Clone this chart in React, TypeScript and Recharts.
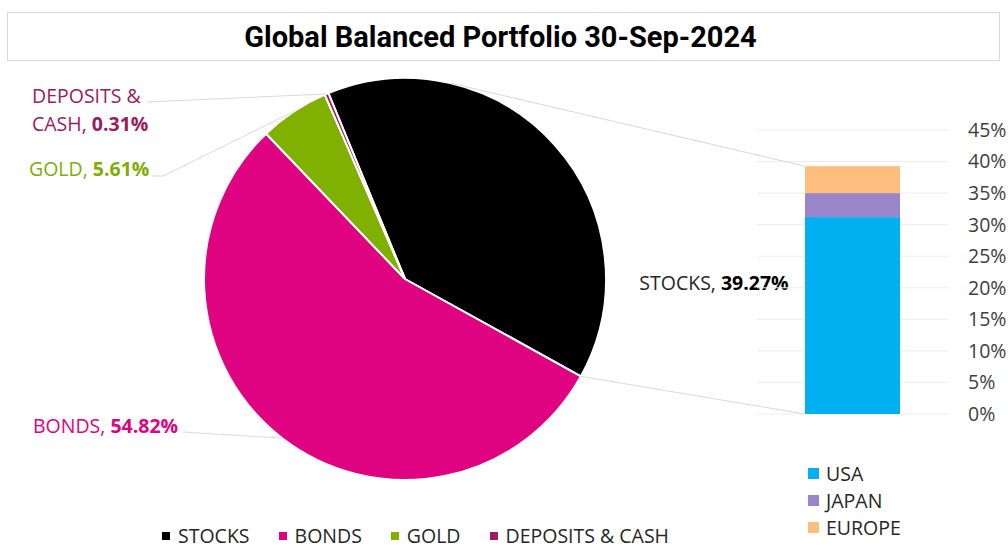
import React from 'react';
import { PieChart, Pie, Cell, BarChart, Bar, XAxis, YAxis, CartesianGrid } from 'recharts';

const TITLE = 'Global Balanced Portfolio 30-Sep-2024';
const ASSETS = ['STOCKS', 'BONDS', 'GOLD', 'DEPOSITS & CASH'];
const ASSET_VALUES = [39.27, 54.82, 5.61, 0.31];
const ASSET_COLORS = ['#000000', '#DF0381', '#80B000', '#9A1C5E'];
const ASSET_LABEL_COLORS = ['#262626', '#DF0381', '#7DAE00', '#9A1C5E'];
const REGIONS = ['USA', 'JAPAN', 'EUROPE'];
const REGION_VALUES = [31.2, 3.8, 4.27];
const REGION_COLORS = ['#00B0F0', '#9A84CA', '#FFBE7D'];
const Y_TICKS = [0, 5, 10, 15, 20, 25, 30, 35, 40, 45];

const W = 1008;
const H = 548;
const FONT = "'Open Sans', 'Noto Sans', sans-serif";
const FS = 19.5;

// pie geometry
const CX = 405;
const CY = 279;
const R = 201;
const START = 112.4;

// label layout (text anchor points and leader-line start points)
const LABEL_LAYOUT: Record<string, any> = {
  STOCKS: { x: 714, y: 282, anchor: 'middle', wrap: 0, leader: null },
  BONDS: { x: 33, y: 425, anchor: 'start', wrap: 0, leader: [[183, 432]] },
  GOLD: { x: 29, y: 168, anchor: 'start', wrap: 0, leader: [[152, 176], [163, 176]] },
  'DEPOSITS & CASH': { x: 32, y: 95, anchor: 'start', wrap: 2, leader: [[147, 102]] },
};

const pieData = ASSETS.map((name, i) => ({ name, value: ASSET_VALUES[i], fill: ASSET_COLORS[i] }));
const barRow: Record<string, any> = { name: 'STOCKS' };
REGIONS.forEach((r, i) => { barRow[r] = REGION_VALUES[i]; });
const barData = [barRow];

const RAD = Math.PI / 180;
const polar = (angle: number, r: number = R) => [CX + r * Math.cos(angle * RAD), CY - r * Math.sin(angle * RAD)];

const totalAssets = ASSET_VALUES.reduce((a, b) => a + b, 0);
const stocksEndAngle = START - (360 * ASSET_VALUES[0]) / totalAssets;

const renderLabel = (props: any) => {
  const { midAngle, index } = props;
  const name = ASSETS[index];
  const lay = LABEL_LAYOUT[name];
  const color = ASSET_LABEL_COLORS[index];
  const pct = `${ASSET_VALUES[index].toFixed(2)}%`;
  const words = name.split(' ');
  const lines: { pre: string; bold: string }[] = [];
  if (lay.wrap) {
    lines.push({ pre: words.slice(0, lay.wrap).join(' '), bold: '' });
    lines.push({ pre: words.slice(lay.wrap).join(' ') + ', ', bold: pct });
  } else {
    lines.push({ pre: name + ', ', bold: pct });
  }
  let path = null;
  if (lay.leader) {
    const end = polar(midAngle, R);
    const pts = [...lay.leader, end].map((p: number[]) => p.join(',')).join(' ');
    path = <polyline points={pts} fill="none" stroke="#D9D9D9" strokeWidth={1} />;
  }
  return (
    <g key={`lbl-${index}`}>
      {path}
      {lines.map((ln, k) => (
        <text
          key={k}
          x={lay.x}
          y={lay.y + k * 28}
          textAnchor={lay.anchor}
          dominantBaseline="central"
          fontFamily={FONT}
          fontSize={FS}
          fill={color}
        >
          {ln.pre}
          {ln.bold ? <tspan fontWeight="bold" fill={index === 0 ? '#000' : color}>{ln.bold}</tspan> : null}
        </text>
      ))}
    </g>
  );
};

const makeShape = (regionIndex: number) => (props: any) => {
  const { x, y, width, height, fill } = props;
  let connector = null;
  if (regionIndex === 0) {
    const [sx, sy] = polar(stocksEndAngle, R);
    connector = <line x1={sx} y1={sy} x2={x} y2={y + height} stroke="#D9D9D9" strokeWidth={1} />;
  } else if (regionIndex === REGIONS.length - 1) {
    const dx = x - CX;
    const dy = -(y - CY);
    const d = Math.sqrt(dx * dx + dy * dy);
    const phi = Math.atan2(dy, dx) / RAD;
    const tAng = phi + Math.acos(R / d) / RAD;
    const [tx, ty] = polar(tAng, R);
    connector = <line x1={tx} y1={ty} x2={x} y2={y} stroke="#D9D9D9" strokeWidth={1} />;
  }
  return (
    <g>
      {connector}
      <rect x={x} y={y} width={width} height={height} fill={fill} />
    </g>
  );
};

export default function App() {
  return (
    <div style={{ position: 'absolute', left: 0, top: 0, width: W, height: H, background: '#fff', overflow: 'hidden', fontFamily: FONT }}>
      <div
        style={{
          position: 'absolute', left: 7, top: 12, width: 993, height: 49, boxSizing: 'border-box',
          border: '1px solid #D9D9D9', display: 'flex', alignItems: 'center', justifyContent: 'center',
          fontFamily: 'Roboto, sans-serif', fontWeight: 700, fontSize: 29, color: '#000', paddingRight: 6,
        }}
      >
        {TITLE}
      </div>

      <div style={{ position: 'absolute', left: 0, top: 0 }}>
        <PieChart width={W} height={H} margin={{ top: 0, right: 0, bottom: 0, left: 0 }}>
          <Pie
            data={pieData}
            dataKey="value"
            nameKey="name"
            cx={CX}
            cy={CY}
            outerRadius={R}
            startAngle={START}
            endAngle={START - 360}
            stroke="#FFFFFF"
            strokeWidth={2}
            label={renderLabel}
            labelLine={false}
            isAnimationActive={false}
          >
            {pieData.map((d, i) => (
              <Cell key={i} fill={d.fill} />
            ))}
          </Pie>
        </PieChart>
      </div>

      <div style={{ position: 'absolute', left: 0, top: 0 }}>
        <BarChart width={W} height={H} data={barData} margin={{ top: 130, right: 0, bottom: 134, left: 757 }}>
          <CartesianGrid vertical={false} stroke="#EDEDED" />
          <XAxis dataKey="name" hide />
          <YAxis
            orientation="right"
            width={60}
            domain={[0, 45]}
            ticks={Y_TICKS}
            tickFormatter={(v: number) => `${v}%`}
            axisLine={false}
            tickLine={false}
            tickSize={0}
            tickMargin={20}
            tick={{ fontFamily: FONT, fontSize: FS, fill: '#404040', textAnchor: 'start' }}
          />
          {REGIONS.map((r, i) => (
            <Bar key={r} dataKey={r} stackId="s" fill={REGION_COLORS[i]} barSize={95} shape={makeShape(i)} isAnimationActive={false} />
          ))}
        </BarChart>
      </div>

      {/* bottom legend */}
      <div
        style={{
          position: 'absolute', left: 0, width: 831, top: 525, display: 'flex',
          justifyContent: 'center', alignItems: 'center', gap: 29, lineHeight: '22px',
        }}
      >
        {ASSETS.map((a, i) => (
          <div key={a} style={{ display: 'flex', alignItems: 'center' }}>
            <span style={{ width: 8, height: 8, background: ASSET_COLORS[i], display: 'inline-block', marginRight: 8 }} />
            <span style={{ fontSize: FS, color: '#262626', whiteSpace: 'nowrap' }}>{a}</span>
          </div>
        ))}
      </div>

      {/* right legend */}
      <div style={{ position: 'absolute', left: 808, top: 460 }}>
        {REGIONS.map((r, i) => (
          <div key={r} style={{ display: 'flex', alignItems: 'center', height: 27 }}>
            <span style={{ width: 11, height: 11, background: REGION_COLORS[i], display: 'inline-block', marginRight: 7 }} />
            <span style={{ fontSize: FS, color: '#262626' }}>{r}</span>
          </div>
        ))}
      </div>
    </div>
  );
}
